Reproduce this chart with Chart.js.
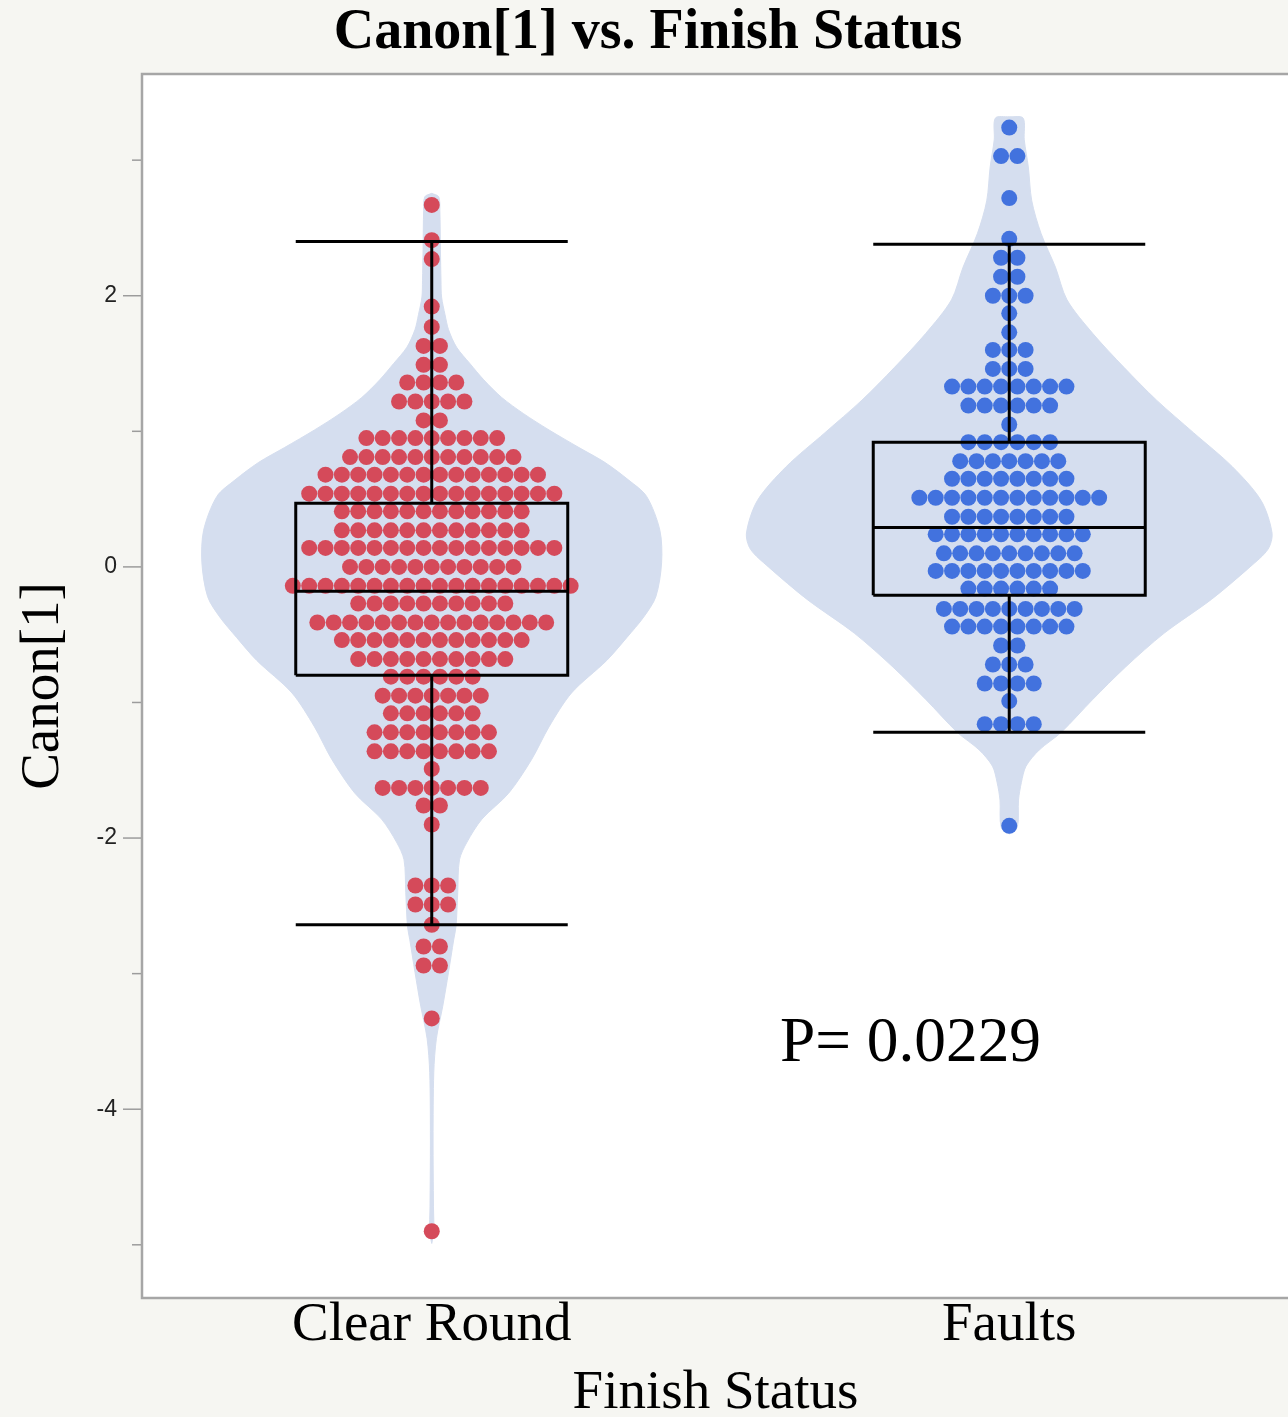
<!DOCTYPE html>
<html>
<head>
<meta charset="utf-8">
<title>Canon[1] vs. Finish Status</title>
<script src="https://cdn.jsdelivr.net/npm/chart.js@4.4.1/dist/chart.umd.min.js"></script>
<style>
  html, body { margin: 0; padding: 0; background: #f6f6f2; overflow: hidden; }
</style>
</head>
<body>
<canvas id="chart" width="1296" height="1417"></canvas>
<script>
// categories
const groups = ['Clear Round', 'Faults'];

// beeswarm rows (value of the row, how many dots sit on it)
const clearRowValues = [2.67, 2.41, 2.27, 1.92, 1.77, 1.63, 1.49, 1.36, 1.22, 1.08, 0.95, 0.81, 0.68, 0.54, 0.41, 0.27, 0.14, 0.00,
  -0.14, -0.27, -0.41, -0.54, -0.68, -0.81, -0.95, -1.08, -1.22, -1.36, -1.49, -1.63, -1.76, -1.90, -2.35, -2.49, -2.64, -2.80, -2.94, -3.33, -4.90];
const clearRowCounts = [1, 1, 1, 1, 1, 2, 2, 4, 5, 2, 9, 11, 14, 16, 12, 12, 16, 11,
  18, 10, 15, 12, 10, 6, 7, 6, 8, 8, 1, 7, 2, 1, 3, 3, 1, 2, 2, 1, 1];

const faultRowValues = [3.24, 3.03, 2.72, 2.42, 2.28, 2.14, 2.00, 1.87, 1.73, 1.60, 1.46, 1.33, 1.19, 1.05, 0.92, 0.78, 0.65, 0.51,
  0.37, 0.24, 0.10, -0.03, -0.16, -0.31, -0.44, -0.58, -0.72, -0.86, -0.99, -1.16, -1.91];
const faultRowCounts = [1, 2, 1, 1, 2, 2, 3, 1, 1, 3, 3, 8, 6, 1, 6, 7, 8, 12,
  8, 10, 9, 10, 6, 9, 8, 2, 3, 4, 1, 4, 1];

// box plot summary per group
const boxQ1 = [-0.80, -0.21];
const boxMedian = [-0.18, 0.29];
const boxQ3 = [0.47, 0.92];
const whiskerLow = [-2.64, -1.22];
const whiskerHigh = [2.40, 2.38];

// violin outlines: y value and half width (category units)
const clearViolinY = [2.755, 2.73, 2.63, 2.34, 2.11, 1.99, 1.86, 1.75, 1.62, 1.50, 1.38, 1.25, 1.13, 1.01, 0.88, 0.77, 0.64, 0.52, 0.27, 0.03,
  -0.22, -0.37, -0.52, -0.69, -0.93, -1.18, -1.42, -1.67, -1.86, -2.03, -2.16, -2.40, -2.65, -2.75, -2.99, -3.24, -3.48, -3.73, -4.22, -4.72, -4.91, -4.99];
const clearViolinW = [0, 0.012, 0.014, 0.015, 0.016, 0.017, 0.023, 0.029, 0.043, 0.066, 0.090, 0.121, 0.159, 0.203, 0.255, 0.300, 0.341, 0.372, 0.395, 0.398,
  0.388, 0.367, 0.338, 0.303, 0.242, 0.203, 0.173, 0.133, 0.087, 0.061, 0.048, 0.045, 0.042, 0.038, 0.029, 0.019, 0.008, 0.0035, 0.0023, 0.003, 0.0035, 0];

const faultViolinY = [3.32, 3.31, 3.15, 2.95, 2.70, 2.46, 2.21, 1.97, 1.72, 1.47, 1.23, 0.99, 0.74, 0.49, 0.25, 0.13, 0.00,
  -0.24, -0.49, -0.74, -0.98, -1.22, -1.35, -1.47, -1.59, -1.72, -1.92, -1.97];
const faultViolinW = [0, 0.024, 0.026, 0.033, 0.039, 0.055, 0.080, 0.100, 0.145, 0.199, 0.255, 0.319, 0.386, 0.436, 0.455, 0.448, 0.417,
  0.350, 0.268, 0.201, 0.144, 0.090, 0.052, 0.029, 0.021, 0.016, 0.014, 0];

const yTicks = [-5, -4, -3, -2, -1, 0, 1, 2, 3];
const pValueText = 'P= 0.0229';
const pValuePos = { x: 0.603, y: -3.646 };

const dotStep = 0.0283;   // horizontal gap between dots in a row
const boxHalf = 0.2355;   // half width of box and whisker caps

Chart.defaults.font.family = '"Liberation Serif", "Times New Roman", serif';

function violinOutline(center, ys, ws) {
  const right = ys.map((y, i) => ({ x: center + ws[i], y: y }));
  const left = ys.map((y, i) => ({ x: center - ws[i], y: y })).reverse();
  return right.concat(left);
}

function swarm(center, values, counts) {
  const pts = [];
  values.forEach((v, i) => {
    const n = counts[i];
    for (let j = 0; j < n; j++) {
      pts.push({ x: center + (j - (n - 1) / 2) * dotStep, y: v });
    }
  });
  return pts;
}

const lineStyle = {
  type: 'line', borderColor: '#000', borderWidth: 3, pointRadius: 0,
  tension: 0, fill: false, order: 1
};

const boxSets = [];
groups.forEach((g, i) => {
  const l = i - boxHalf, r = i + boxHalf;
  boxSets.push({ ...lineStyle, data: [{x: l, y: boxQ1[i]}, {x: r, y: boxQ1[i]}, {x: r, y: boxQ3[i]}, {x: l, y: boxQ3[i]}, {x: l, y: boxQ1[i]}] });
  boxSets.push({ ...lineStyle, data: [{x: l, y: boxMedian[i]}, {x: r, y: boxMedian[i]}] });
  boxSets.push({ ...lineStyle, data: [{x: i, y: boxQ3[i]}, {x: i, y: whiskerHigh[i]}] });
  boxSets.push({ ...lineStyle, data: [{x: i, y: boxQ1[i]}, {x: i, y: whiskerLow[i]}] });
  boxSets.push({ ...lineStyle, data: [{x: l, y: whiskerHigh[i]}, {x: r, y: whiskerHigh[i]}] });
  boxSets.push({ ...lineStyle, data: [{x: l, y: whiskerLow[i]}, {x: r, y: whiskerLow[i]}] });
});

const violinStyle = {
  type: 'line', backgroundColor: '#d5deef', borderColor: '#d5deef', borderWidth: 1,
  pointRadius: 0, fill: 'shape', tension: 0.3, order: 3
};

// background, frame, tick marks and p value
const framePlugin = {
  id: 'frame',
  beforeDraw(chart) {
    const { ctx, chartArea: a } = chart;
    ctx.save();
    ctx.fillStyle = '#f6f6f2';
    ctx.fillRect(0, 0, chart.width, chart.height);
    ctx.fillStyle = '#ffffff';
    ctx.fillRect(a.left, a.top, a.right - a.left, a.bottom - a.top);
    ctx.restore();
  },
  afterDraw(chart) {
    const { ctx, chartArea: a, scales: { x, y } } = chart;
    ctx.save();
    ctx.strokeStyle = '#a6a6a6';
    ctx.lineWidth = 2.5;
    ctx.beginPath();
    ctx.moveTo(a.right + 10, a.top - 1);
    ctx.lineTo(a.left - 1, a.top - 1);
    ctx.lineTo(a.left - 1, a.bottom + 1);
    ctx.lineTo(a.right + 10, a.bottom + 1);
    ctx.stroke();

    ctx.strokeStyle = '#9c9c9c';
    ctx.lineWidth = 1.5;
    y.ticks.forEach(t => {
      const py = y.getPixelForValue(t.value);
      const len = t.value % 2 === 0 ? 18 : 9;
      ctx.beginPath();
      ctx.moveTo(a.left - 2 - len, py);
      ctx.lineTo(a.left - 2, py);
      ctx.stroke();
    });

    ctx.fillStyle = '#000';
    ctx.font = '64px "Liberation Serif"';
    ctx.textAlign = 'left';
    ctx.textBaseline = 'alphabetic';
    ctx.fillText(pValueText, x.getPixelForValue(pValuePos.x), y.getPixelForValue(pValuePos.y), 261);
    ctx.restore();
  }
};

new Chart(document.getElementById('chart'), {
  type: 'scatter',
  data: {
    datasets: [
      { ...violinStyle, data: violinOutline(0, clearViolinY, clearViolinW) },
      { ...violinStyle, data: violinOutline(1, faultViolinY, faultViolinW) },
      { type: 'scatter', data: swarm(0, clearRowValues, clearRowCounts), pointRadius: 8, pointBackgroundColor: '#d54a5a', pointBorderWidth: 0, order: 2 },
      { type: 'scatter', data: swarm(1, faultRowValues, faultRowCounts), pointRadius: 8, pointBackgroundColor: '#4272de', pointBorderWidth: 0, order: 2 },
      ...boxSets
    ]
  },
  options: {
    responsive: false,
    animation: false,
    devicePixelRatio: 1,
    events: [],
    layout: { padding: 0 },
    plugins: {
      legend: { display: false },
      tooltip: { enabled: false },
      title: {
        display: true,
        text: 'Canon[1] vs. Finish Status',
        color: '#000',
        font: { size: 56, weight: 'bold', lineHeight: 1 },
        padding: { top: 6, bottom: 13 }
      }
    },
    scales: {
      x: {
        type: 'linear',
        min: -0.5,
        max: 1.4827,
        afterBuildTicks: s => { s.ticks = groups.map((g, i) => ({ value: i })); },
        afterFit: s => { s.height = 120; },
        grid: { display: false, drawTicks: false },
        border: { display: false },
        ticks: {
          callback: v => groups[v],
          color: '#000',
          font: { size: 55, lineHeight: 1 },
          padding: 1.5,
          maxRotation: 0,
          autoSkip: false
        },
        title: {
          display: true,
          text: 'Finish Status',
          color: '#000',
          font: { size: 55, lineHeight: 0.8 },
          padding: { top: 0, bottom: 1 }
        }
      },
      y: {
        min: -5.385,
        max: 3.628,
        afterBuildTicks: s => { s.ticks = yTicks.map(v => ({ value: v })); },
        afterFit: s => { s.width = 143; },
        grid: { display: false, drawTicks: false },
        border: { display: false },
        ticks: {
          callback: v => (v % 2 === 0 ? String(v) : ''),
          color: '#222',
          font: { family: '"Liberation Sans", Arial, sans-serif', size: 23 },
          padding: 26
        },
        title: {
          display: true,
          text: 'Canon[1]',
          color: '#000',
          font: { size: 55, lineHeight: 1 },
          padding: { top: 16.5, bottom: 0 }
        }
      }
    }
  },
  plugins: [framePlugin]
});
</script>
</body>
</html>
